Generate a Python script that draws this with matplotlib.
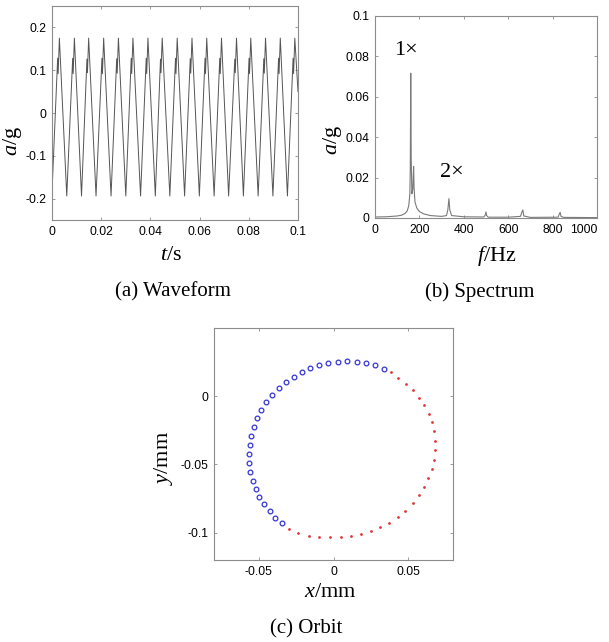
import matplotlib
matplotlib.use("Agg")
import matplotlib.pyplot as plt
import numpy as np

plt.rcParams['font.family'] = ['Liberation Sans', 'DejaVu Sans']
plt.rcParams['axes.unicode_minus'] = False
plt.rcParams['mathtext.fontset'] = 'custom'
plt.rcParams['mathtext.it'] = 'Liberation Serif:italic'
plt.rcParams['mathtext.rm'] = 'Liberation Serif'

# (a) waveform: key points
trough_t = [0.0000, 0.0060, 0.0120, 0.0179, 0.0240, 0.0300, 0.0360, 0.0420, 0.0479,
            0.0539, 0.0599, 0.0659, 0.0718, 0.0778, 0.0838, 0.0898, 0.0957]
trough_a = [-0.185, -0.194, -0.194, -0.194, -0.194, -0.194, -0.194, -0.194, -0.194,
            -0.194, -0.194, -0.194, -0.194, -0.194, -0.194, -0.194, -0.194]
shoulder_t = [0.0023, 0.0084, 0.0142, 0.0203, 0.0263, 0.0322, 0.0383, 0.0441, 0.0502,
              0.0562, 0.0622, 0.0682, 0.0743, 0.0801, 0.0861, 0.0921, 0.0980]
shoulder_a = [0.128, 0.128, 0.126, 0.128, 0.127, 0.128, 0.128, 0.126, 0.128,
              0.127, 0.128, 0.128, 0.126, 0.128, 0.127, 0.128, 0.128]
dip_t = [0.0025, 0.0086, 0.0144, 0.0205, 0.0265, 0.0324, 0.0385, 0.0443, 0.0504,
         0.0564, 0.0624, 0.0684, 0.0745, 0.0803, 0.0863, 0.0923, 0.0982]
dip_a = [0.092, 0.092, 0.094, 0.092, 0.093, 0.092, 0.092, 0.094, 0.092,
         0.093, 0.092, 0.092, 0.094, 0.092, 0.093, 0.092, 0.092]
peak_t = [0.0030, 0.0091, 0.0149, 0.0210, 0.0270, 0.0329, 0.0390, 0.0448, 0.0509,
          0.0569, 0.0629, 0.0689, 0.0750, 0.0808, 0.0868, 0.0928, 0.0987]
peak_a = [0.175, 0.175, 0.175, 0.175, 0.175, 0.175, 0.175, 0.175, 0.175,
          0.175, 0.175, 0.175, 0.175, 0.175, 0.175, 0.175, 0.175]
end_t = [0.1000]
end_a = [0.050]

# (b) spectrum
freq = [0, 50, 100, 120, 135, 145, 152, 157, 159, 161, 163, 166, 170, 172, 174, 176,
        180, 188, 200, 220, 250, 300, 322, 328, 333, 337, 345, 400, 490, 497, 500,
        503, 510, 600, 655, 662, 666, 670, 700, 825, 830, 834, 838, 850, 1000]
amp = [0.0005, 0.0006, 0.0010, 0.0014, 0.0022, 0.0035, 0.0060, 0.0120, 0.0250, 0.0717,
       0.0300, 0.0120, 0.0140, 0.0200, 0.0255, 0.0150, 0.0080, 0.0050, 0.0032, 0.0020,
       0.0012, 0.0008, 0.0012, 0.0040, 0.0096, 0.0040, 0.0012, 0.0006, 0.0005, 0.0015,
       0.0030, 0.0012, 0.0004, 0.0004, 0.0008, 0.0030, 0.0040, 0.0010, 0.0003, 0.0004,
       0.0020, 0.0028, 0.0008, 0.0003, 0.0002]

# (c) orbit
blue_x = [0.0336, 0.0277, 0.0215, 0.0154, 0.0089, 0.0029, -0.0034, -0.0096, -0.0157,
          -0.0213, -0.0266, -0.0320, -0.0367, -0.0412, -0.0450, -0.0483, -0.0512,
          -0.0535, -0.0550, -0.0561, -0.0564, -0.0564, -0.0557, -0.0539, -0.0519,
          -0.0497, -0.0465, -0.0427, -0.0389, -0.0342]
blue_y = [0.0203, 0.0227, 0.0242, 0.0252, 0.0259, 0.0254, 0.0247, 0.0232, 0.0208,
          0.0178, 0.0144, 0.0105, 0.0061, 0.0010, -0.0044, -0.0098, -0.0161,
          -0.0227, -0.0289, -0.0355, -0.0421, -0.0489, -0.0553, -0.0619, -0.0680,
          -0.0736, -0.0792, -0.0844, -0.0892, -0.0932]
red_x = [0.0383, 0.0434, 0.0483, 0.0535, 0.0573, 0.0606, 0.0638, 0.0660, 0.0676,
         0.0682, 0.0680, 0.0673, 0.0658, 0.0635, 0.0604, 0.0573, 0.0530, 0.0481,
         0.0432, 0.0374, 0.0311, 0.0248, 0.0181, 0.0116, 0.0047, -0.0025, -0.0096,
         -0.0166, -0.0237, -0.0295]
red_y = [0.0174, 0.0137, 0.0093, 0.0044, -0.0010, -0.0066, -0.0127, -0.0188, -0.0257,
         -0.0328, -0.0396, -0.0465, -0.0533, -0.0599, -0.0663, -0.0726, -0.0785,
         -0.0839, -0.0883, -0.0929, -0.0958, -0.0985, -0.1007, -0.1022, -0.1029,
         -0.1032, -0.1029, -0.1022, -0.1000, -0.0971]

W, H = 609, 642
fig = plt.figure(figsize=(W / 100, H / 100), dpi=100)


def px_axes(left, top, right, bottom):
    return fig.add_axes([left / W, 1 - bottom / H, (right - left) / W, (bottom - top) / H])


def style(ax):
    for s in ax.spines.values():
        s.set_color('#8c8c8c')
        s.set_linewidth(0.8)
    ax.tick_params(direction='in', top=True, right=True, length=2.5, width=0.6,
                   color='#8c8c8c', labelsize=8.7, pad=4)


serif = 'Liberation Serif'

# (a) Waveform
ax1 = px_axes(52, 6, 298, 220)
t_all = np.array(trough_t + shoulder_t + dip_t + peak_t + end_t)
a_all = np.array(trough_a + shoulder_a + dip_a + peak_a + end_a)
order = np.argsort(t_all)
ax1.plot(t_all[order], a_all[order], color='#555555', lw=0.7)
ax1.set_xlim(0, 0.1)
ax1.set_ylim(-0.25, 0.25)
ax1.set_xticks([0, 0.02, 0.04, 0.06, 0.08, 0.1])
ax1.set_xticklabels(['0', '0.02', '0.04', '0.06', '0.08', '0.1'])
ax1.set_yticks([-0.2, -0.1, 0, 0.1, 0.2])
ax1.set_yticklabels(['-0.2', '-0.1', '0', '0.1', '0.2'])
style(ax1)
ax1.set_xlabel('$t$/s', family=serif, fontsize=16, va='center')
ax1.xaxis.set_label_coords(0.484, -0.168)
ax1.set_ylabel('$a$/g', family=serif, fontsize=16, va='center')
ax1.yaxis.set_label_coords(-0.16, 0.369)

# (b) Spectrum
ax2 = px_axes(375, 16, 597, 218)
ax2.plot(freq, amp, color='#7a7a7a', lw=0.8)
ax2.set_xlim(0, 1000)
ax2.set_ylim(0, 0.1)
ax2.set_xticks([0, 200, 400, 600, 800, 1000])
ax2.set_xticklabels(['0', '200', '400', '600', '800', '1000'])
ax2.set_yticks([0, 0.02, 0.04, 0.06, 0.08, 0.1])
ax2.set_yticklabels(['0', '0.02', '0.04', '0.06', '0.08', '0.1'])
style(ax2)
ax2.get_xticklabels()[-1].set_ha('right')
ax2.set_xlabel('$f$/Hz', family=serif, fontsize=16, va='center')
ax2.xaxis.set_label_coords(0.55, -0.188)
ax2.set_ylabel('$a$/g', family=serif, fontsize=16, va='center')
ax2.yaxis.set_label_coords(-0.19, 0.386)
ax2.text(140, 0.083, '1\u00d7', family=serif, fontsize=16, ha='center', va='center')
ax2.text(347, 0.0223, '2\u00d7', family=serif, fontsize=16, ha='center', va='center')

# (c) Orbit
ax3 = px_axes(214, 328, 453, 560)
ax3.plot(blue_x, blue_y, 'o', mfc='none', mec='#3434d8', ms=3.4, mew=0.9, ls='none')
ax3.plot(red_x, red_y, '.', color='#e03a3a', ms=2.0, ls='none')
ax3.set_xlim(-0.08, 0.08)
ax3.set_ylim(-0.12, 0.05)
ax3.set_xticks([-0.05, 0, 0.05])
ax3.set_xticklabels(['-0.05', '0', '0.05'])
ax3.set_yticks([-0.1, -0.05, 0])
ax3.set_yticklabels(['-0.1', '-0.05', '0'])
style(ax3)
ax3.set_xlabel('$x$/mm', family=serif, fontsize=16, va='center')
ax3.xaxis.set_label_coords(0.485, -0.142)
ax3.set_ylabel('$y$/mm', family=serif, fontsize=16, va='center')
ax3.yaxis.set_label_coords(-0.21, 0.44)

# captions
fig.text(173 / W, 1 - 292 / H, '(a) Waveform', family=serif, fontsize=15, ha='center', va='center')
fig.text(480 / W, 1 - 292 / H, '(b) Spectrum', family=serif, fontsize=15, ha='center', va='center')
fig.text(306 / W, 1 - 629 / H, '(c) Orbit', family=serif, fontsize=15, ha='center', va='center')

fig.savefig('out.png', dpi=100)
